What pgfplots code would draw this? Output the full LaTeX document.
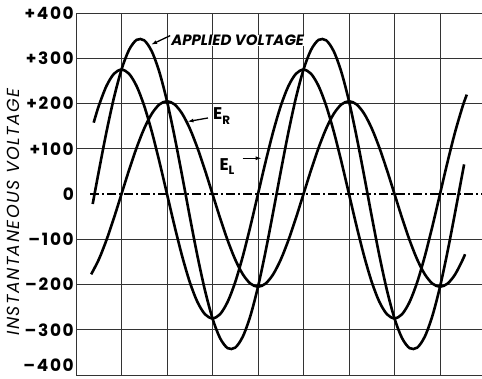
\documentclass[border=0pt]{standalone}
\usepackage{fontspec}
\usepackage{pgfplots}
\usepackage{pgfplotstable}
\pgfplotsset{compat=1.18}
\usetikzlibrary{arrows.meta}
\setmainfont{Poppins}

\pgfplotstableread{
x y
0.3333 -177.5
0.5 -145.0
0.6667 -102.5
0.8333 -53.1
1 0
1.1667 53.1
1.3333 102.5
1.5 145.0
1.6667 177.5
1.8333 198.0
2 205
2.1667 198.0
2.3333 177.5
2.5 145.0
2.6667 102.5
2.8333 53.1
3 0
3.1667 -53.1
3.3333 -102.5
3.5 -145.0
3.6667 -177.5
3.8333 -198.0
4 -205
4.1667 -198.0
4.3333 -177.5
4.5 -145.0
4.6667 -102.5
4.8333 -53.1
5 0
5.1667 53.1
5.3333 102.5
5.5 145.0
5.6667 177.5
5.8333 198.0
6 205
6.1667 198.0
6.3333 177.5
6.5 145.0
6.6667 102.5
6.8333 53.1
7 0
7.1667 -53.1
7.3333 -102.5
7.5 -145.0
7.6667 -177.5
7.8333 -198.0
8 -205
8.1667 -198.0
8.3333 -177.5
8.5 -145.0
8.55 -133.1
}\ER

\pgfplotstableread{
x y
0.3889 157.7
0.5 194.5
0.6667 238.2
0.8333 265.6
1 275
1.1667 265.6
1.3333 238.2
1.5 194.5
1.6667 137.5
1.8333 71.2
2 0
2.1667 -71.2
2.3333 -137.5
2.5 -194.5
2.6667 -238.2
2.8333 -265.6
3 -275
3.1667 -265.6
3.3333 -238.2
3.5 -194.5
3.6667 -137.5
3.8333 -71.2
4 0
4.1667 71.2
4.3333 137.5
4.5 194.5
4.6667 238.2
4.8333 265.6
5 275
5.1667 265.6
5.3333 238.2
5.5 194.5
5.6667 137.5
5.8333 71.2
6 0
6.1667 -71.2
6.3333 -137.5
6.5 -194.5
6.6667 -238.2
6.8333 -265.6
7 -275
7.1667 -265.6
7.3333 -238.2
7.5 -194.5
7.6667 -137.5
7.8333 -71.2
8 0
8.1667 71.2
8.3333 137.5
8.5 194.5
8.5889 219.6
}\EL

\pgfplotstableread{
x y
0.3667 -22.1
0.5 49.5
0.6667 135.7
0.8333 212.5
1 275
1.1667 318.7
1.3333 340.7
1.5 339.5
1.6667 315.0
1.8333 269.2
2 205
2.1667 126.8
2.3333 40.0
2.5 -49.5
2.6667 -135.7
2.8333 -212.5
3 -275
3.1667 -318.7
3.3333 -340.7
3.5 -339.5
3.6667 -315.0
3.8333 -269.2
4 -205
4.1667 -126.8
4.3333 -40.0
4.5 49.5
4.6667 135.7
4.8333 212.5
5 275
5.1667 318.7
5.3333 340.7
5.5 339.5
5.6667 315.0
5.8333 269.2
6 205
6.1667 126.8
6.3333 40.0
6.5 -49.5
6.6667 -135.7
6.8333 -212.5
7 -275
7.1667 -318.7
7.3333 -340.7
7.5 -339.5
7.6667 -315.0
7.8333 -269.2
8 -205
8.1667 -126.8
8.3333 -40.0
8.5 49.5
8.53 65.4
}\APPL

\begin{document}
\begin{tikzpicture}
\begin{axis}[
  name=ax,
  scale only axis,
  width=406bp, height=362bp,
  xmin=0, xmax=8.923,
  ymin=-400, ymax=400,
  axis line style={draw=none},
  xtick={0,1,2,3,4,5,6,7,8}, xticklabels={},
  ytick={-400,-300,-200,-100,100,200,300,400},
  yticklabels={\raisebox{4bp}[0pt][0pt]{--400},--300,--200,--100,+100,+200,+300,+400},
  extra y ticks={0}, extra y tick labels={0},
  extra y tick style={grid=none},
  major tick length=0pt,
  grid=major,
  major grid style={black!80, line width=0.8bp},
  yticklabel style={font=\bfseries\fontsize{17}{17}\selectfont\addfontfeature{LetterSpace=10}, inner sep=2bp},
  ylabel={INSTANTANEOUS VOLTAGE},
  ylabel style={at={(axis description cs:-0.155,0.45)}, anchor=center,
    font=\itshape\fontsize{17.5}{17.5}\selectfont\addfontfeature{LetterSpace=8}},
  clip=false,
]
\addplot[black, line width=1.2bp, dash pattern=on 9bp off 3bp on 2bp off 3bp] coordinates {(0.31,0) (8.923,0)};
\addplot[black, line width=2.6bp, smooth] table[x=x,y=y] {\APPL};
\addplot[black, line width=2.6bp, smooth] table[x=x,y=y] {\ER};
\addplot[black, line width=2.6bp, smooth] table[x=x,y=y] {\EL};

\node[anchor=west, inner sep=0pt, fill=white, font=\bfseries\itshape\fontsize{15}{15}\selectfont] at (axis cs:2.09,340) {APPLIED VOLTAGE};
\draw[line width=1.3bp, -{Latex[length=6bp,width=4bp]}] (axis cs:2.07,350) -- (axis cs:1.65,330);

\node[anchor=west, inner sep=0pt, font=\bfseries\fontsize{17}{17}\selectfont] at (axis cs:3.01,172) {E\raisebox{-0.45ex}{\fontsize{12}{12}\selectfont R}};
\draw[line width=1.3bp, -{Latex[length=6bp,width=4bp]}] (axis cs:2.9,168) -- (axis cs:2.45,160);

\node[anchor=west, inner sep=0pt, font=\bfseries\fontsize{17}{17}\selectfont] at (axis cs:3.15,60) {E\raisebox{-0.45ex}{\fontsize{12}{12}\selectfont L}};
\draw[line width=1.3bp, -{Latex[length=6bp,width=4bp]}] (axis cs:3.66,79) -- (axis cs:4.08,79);
\end{axis}
\pgfresetboundingbox
\path[use as bounding box] ([xshift=-76bp,yshift=-4bp]ax.south west) rectangle ([yshift=13bp]ax.north east);
\end{tikzpicture}
\end{document}
